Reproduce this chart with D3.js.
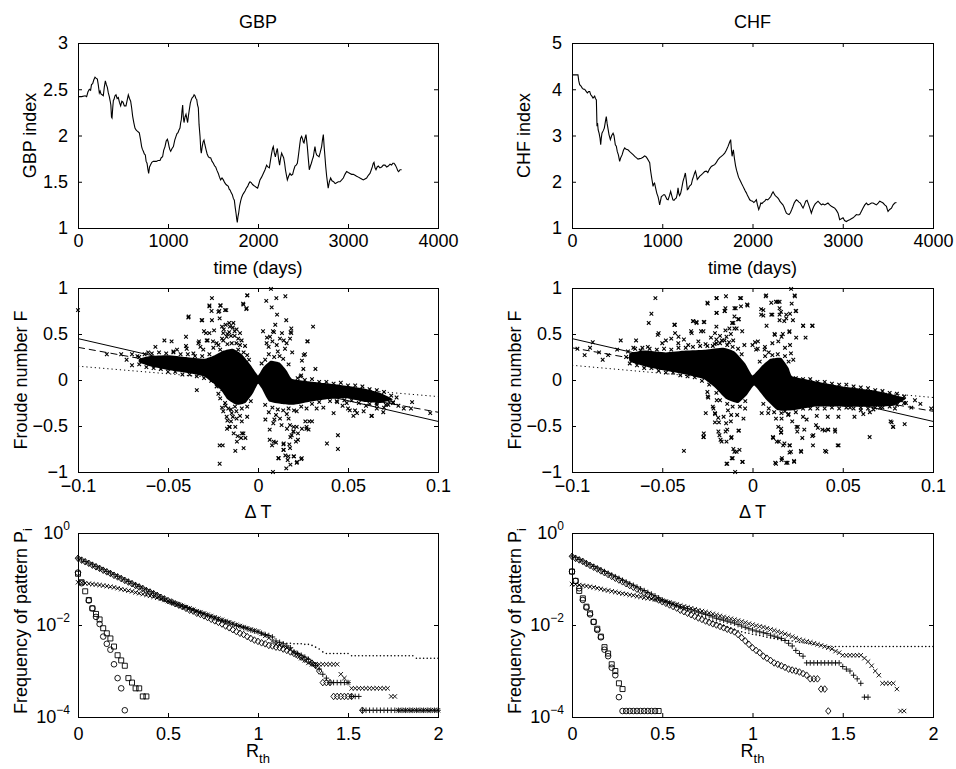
<!DOCTYPE html>
<html>
<head>
<meta charset="utf-8">
<script src="https://cdn.jsdelivr.net/npm/d3@7"></script>
<style>body{margin:0;background:#fff}</style>
</head>
<body>
<script>
// ---- exchange rate index (day, value) ----
const gbpIndex = [[0,2.42],[40,2.42],[80,2.43],[96,2.42],[110,2.47],[126,2.50],[140,2.49],[150,2.55],[163,2.56],[175,2.60],[189,2.63],[200,2.62],[215,2.61],[225,2.55],[237,2.46],[246,2.48],[255,2.45],[268,2.44],[281,2.43],[292,2.52],[304,2.59],[315,2.55],[326,2.52],[337,2.46],[348,2.42],[358,2.37],[365,2.33],[372,2.20],[378,2.19],[386,2.30],[393,2.38],[400,2.39],[411,2.43],[422,2.44],[435,2.40],[448,2.41],[460,2.36],[474,2.32],[487,2.37],[500,2.36],[515,2.32],[533,2.32],[546,2.38],[559,2.44],[572,2.40],[585,2.37],[596,2.30],[607,2.21],[620,2.14],[633,2.08],[645,2.06],[656,2.05],[668,2.04],[681,2.03],[694,1.96],[707,1.88],[716,1.85],[726,1.83],[737,1.80],[748,1.79],[757,1.72],[767,1.70],[776,1.64],[785,1.59],[795,1.66],[805,1.68],[820,1.71],[837,1.72],[855,1.72],[870,1.72],[890,1.73],[911,1.73],[925,1.76],[940,1.77],[952,1.84],[967,1.88],[980,1.94],[993,1.96],[1002,1.93],[1012,1.88],[1020,1.85],[1030,1.83],[1045,1.86],[1060,1.88],[1075,1.95],[1089,1.99],[1100,2.02],[1111,2.03],[1122,2.06],[1133,2.08],[1141,2.14],[1148,2.17],[1155,2.26],[1163,2.33],[1170,2.20],[1178,2.14],[1189,2.20],[1200,2.23],[1210,2.18],[1218,2.14],[1228,2.22],[1237,2.28],[1248,2.35],[1260,2.39],[1270,2.41],[1281,2.42],[1290,2.44],[1300,2.43],[1310,2.40],[1319,2.39],[1328,2.33],[1337,2.30],[1345,2.12],[1356,1.99],[1364,1.85],[1370,1.81],[1380,1.88],[1390,1.93],[1400,1.95],[1410,1.90],[1422,1.85],[1435,1.80],[1448,1.77],[1460,1.76],[1474,1.76],[1490,1.72],[1504,1.70],[1518,1.67],[1530,1.66],[1545,1.62],[1559,1.59],[1572,1.55],[1585,1.52],[1600,1.54],[1615,1.52],[1630,1.49],[1645,1.47],[1658,1.46],[1670,1.45],[1680,1.42],[1690,1.41],[1703,1.38],[1715,1.36],[1726,1.32],[1737,1.30],[1747,1.22],[1756,1.16],[1763,1.10],[1770,1.06],[1777,1.12],[1785,1.16],[1796,1.24],[1807,1.29],[1818,1.33],[1830,1.36],[1843,1.38],[1856,1.40],[1870,1.43],[1885,1.45],[1898,1.48],[1911,1.50],[1925,1.49],[1940,1.47],[1953,1.46],[1967,1.45],[1980,1.44],[1996,1.43],[2008,1.47],[2022,1.52],[2040,1.55],[2059,1.59],[2078,1.63],[2096,1.68],[2110,1.66],[2126,1.65],[2140,1.74],[2152,1.81],[2162,1.86],[2170,1.88],[2180,1.82],[2193,1.77],[2204,1.82],[2215,1.86],[2228,1.75],[2240,1.68],[2252,1.76],[2263,1.81],[2275,1.78],[2285,1.76],[2296,1.70],[2305,1.63],[2316,1.57],[2326,1.52],[2340,1.56],[2355,1.59],[2370,1.57],[2385,1.58],[2398,1.63],[2411,1.67],[2424,1.68],[2437,1.70],[2446,1.76],[2455,1.83],[2465,1.91],[2474,1.97],[2485,1.99],[2496,1.96],[2503,1.93],[2511,1.92],[2522,1.97],[2533,2.01],[2540,1.95],[2548,1.88],[2559,1.75],[2570,1.63],[2582,1.67],[2593,1.70],[2604,1.74],[2615,1.77],[2624,1.83],[2633,1.88],[2642,1.82],[2652,1.79],[2665,1.78],[2678,1.77],[2692,1.82],[2707,1.88],[2716,1.95],[2726,2.01],[2735,1.88],[2744,1.77],[2753,1.66],[2763,1.56],[2772,1.49],[2780,1.43],[2793,1.50],[2807,1.54],[2822,1.51],[2840,1.50],[2857,1.48],[2874,1.49],[2892,1.50],[2911,1.50],[2930,1.52],[2948,1.54],[2966,1.58],[2985,1.61],[3003,1.60],[3022,1.59],[3040,1.58],[3059,1.58],[3078,1.57],[3096,1.56],[3115,1.55],[3133,1.54],[3152,1.53],[3170,1.52],[3188,1.53],[3207,1.54],[3226,1.57],[3244,1.59],[3259,1.63],[3270,1.66],[3281,1.70],[3289,1.71],[3300,1.65],[3311,1.63],[3324,1.66],[3337,1.67],[3355,1.65],[3374,1.66],[3392,1.68],[3411,1.68],[3430,1.66],[3448,1.67],[3467,1.69],[3485,1.68],[3498,1.70],[3511,1.70],[3526,1.68],[3541,1.65],[3553,1.62],[3563,1.61],[3578,1.63],[3596,1.63]];

const chfIndex = [[0,4.31],[30,4.31],[66,4.31],[75,4.18],[85,4.10],[100,4.07],[115,4.02],[128,4.00],[140,4.00],[155,3.96],[170,3.92],[184,3.95],[196,3.95],[208,3.88],[220,3.85],[233,3.81],[242,3.83],[251,3.85],[260,3.80],[270,3.77],[277,3.20],[283,3.27],[290,3.12],[300,3.05],[310,2.95],[318,2.80],[325,2.95],[332,3.05],[345,3.10],[358,3.16],[370,3.30],[380,3.41],[390,3.25],[398,3.16],[410,3.02],[425,2.91],[440,3.00],[455,3.05],[465,3.00],[480,2.80],[491,2.77],[502,2.65],[514,2.58],[528,2.44],[540,2.52],[555,2.58],[570,2.68],[584,2.73],[600,2.70],[620,2.69],[640,2.65],[658,2.62],[680,2.58],[695,2.55],[712,2.52],[731,2.49],[750,2.50],[768,2.51],[787,2.53],[805,2.56],[820,2.54],[835,2.50],[850,2.45],[861,2.41],[870,2.25],[880,2.12],[890,2.00],[898,1.90],[905,1.95],[915,1.97],[928,1.85],[940,1.75],[953,1.68],[962,1.60],[971,1.50],[980,1.58],[990,1.68],[1005,1.70],[1015,1.72],[1027,1.72],[1040,1.67],[1052,1.62],[1065,1.61],[1080,1.70],[1093,1.79],[1105,1.70],[1118,1.61],[1130,1.60],[1143,1.63],[1156,1.65],[1165,1.72],[1175,1.87],[1183,1.75],[1192,1.70],[1204,1.75],[1215,1.85],[1230,2.01],[1244,2.10],[1256,2.19],[1265,2.05],[1278,1.83],[1290,1.85],[1300,1.90],[1311,1.92],[1322,1.94],[1335,2.05],[1348,2.12],[1359,2.19],[1368,2.23],[1378,2.15],[1388,2.05],[1400,2.08],[1416,2.12],[1433,2.15],[1450,2.18],[1470,2.22],[1488,2.23],[1505,2.20],[1525,2.28],[1544,2.33],[1562,2.35],[1581,2.37],[1600,2.42],[1618,2.48],[1637,2.52],[1655,2.55],[1674,2.58],[1692,2.62],[1710,2.68],[1730,2.77],[1745,2.85],[1758,2.91],[1766,2.70],[1774,2.55],[1780,2.62],[1788,2.69],[1800,2.50],[1812,2.35],[1823,2.25],[1832,2.19],[1845,2.10],[1858,2.05],[1870,2.00],[1882,1.95],[1895,1.90],[1908,1.85],[1920,1.80],[1932,1.76],[1945,1.70],[1957,1.66],[1969,1.61],[1985,1.59],[2000,1.58],[2015,1.55],[2030,1.58],[2043,1.61],[2055,1.50],[2069,1.40],[2080,1.45],[2092,1.54],[2105,1.53],[2120,1.56],[2135,1.58],[2150,1.62],[2168,1.61],[2185,1.64],[2202,1.68],[2215,1.74],[2228,1.78],[2240,1.74],[2252,1.70],[2265,1.68],[2280,1.65],[2292,1.62],[2302,1.58],[2320,1.54],[2337,1.50],[2350,1.45],[2363,1.38],[2376,1.32],[2390,1.30],[2405,1.29],[2420,1.33],[2435,1.40],[2449,1.47],[2462,1.54],[2475,1.58],[2486,1.61],[2500,1.59],[2515,1.56],[2530,1.54],[2545,1.48],[2560,1.43],[2575,1.50],[2590,1.58],[2605,1.60],[2623,1.50],[2637,1.42],[2652,1.32],[2665,1.40],[2680,1.47],[2695,1.52],[2710,1.55],[2726,1.58],[2745,1.54],[2763,1.50],[2780,1.52],[2800,1.50],[2818,1.52],[2836,1.54],[2855,1.50],[2874,1.47],[2893,1.45],[2911,1.43],[2930,1.38],[2948,1.32],[2957,1.25],[2966,1.18],[2985,1.20],[3003,1.22],[3020,1.16],[3040,1.14],[3058,1.16],[3077,1.18],[3095,1.20],[3114,1.22],[3132,1.25],[3151,1.29],[3170,1.28],[3188,1.29],[3207,1.36],[3225,1.43],[3244,1.50],[3262,1.54],[3280,1.50],[3300,1.52],[3318,1.54],[3336,1.54],[3355,1.52],[3373,1.50],[3392,1.54],[3410,1.58],[3428,1.56],[3447,1.54],[3465,1.50],[3484,1.47],[3494,1.40],[3502,1.36],[3520,1.40],[3540,1.43],[3558,1.50],[3576,1.54],[3595,1.55]];

// ---- Froude number vs delta T: dense core outline and individual points ----
const gbpCore = [[-0.066,0.23],[-0.06,0.26],[-0.05,0.27],[-0.04,0.25],[-0.03,0.23],[-0.024,0.27],[-0.019,0.32],[-0.014,0.34],[-0.009,0.28],[-0.004,0.16],[0,0.05],[0.003,0.14],[0.007,0.21],[0.012,0.19],[0.016,0.1],[0.019,0.01],[0.03,-0.02],[0.044,-0.05],[0.058,-0.09],[0.068,-0.14],[0.075,-0.21],[0.068,-0.25],[0.06,-0.24],[0.05,-0.2],[0.038,-0.21],[0.028,-0.24],[0.02,-0.27],[0.013,-0.26],[0.006,-0.23],[0.002,-0.09],[0,-0.04],[-0.003,-0.15],[-0.007,-0.25],[-0.012,-0.27],[-0.017,-0.21],[-0.021,-0.1],[-0.03,0.04],[-0.04,0.08],[-0.05,0.11],[-0.06,0.15],[-0.066,0.19]];
const chfCore = [[-0.068,0.29],[-0.06,0.32],[-0.048,0.3],[-0.037,0.32],[-0.026,0.33],[-0.016,0.35],[-0.01,0.31],[-0.004,0.18],[0,0.05],[0.005,0.15],[0.01,0.23],[0.016,0.24],[0.02,0.13],[0.022,0.04],[0.034,-0.01],[0.05,-0.07],[0.066,-0.11],[0.078,-0.16],[0.085,-0.2],[0.078,-0.28],[0.066,-0.29],[0.05,-0.29],[0.034,-0.29],[0.022,-0.33],[0.014,-0.33],[0.007,-0.2],[0.001,-0.06],[-0.003,-0.16],[-0.008,-0.25],[-0.015,-0.2],[-0.021,-0.08],[-0.027,0.01],[-0.037,0.06],[-0.048,0.1],[-0.06,0.15],[-0.068,0.2]];

const gbpFroude = [[-0.1,0.76],[-0.084,0.28],[-0.076,0.28],[-0.073,0.22],[-0.07,0.28],[-0.07,0.16],[-0.066,0.25],[-0.064,0.21],[-0.061,0.3],[-0.057,0.36],[-0.052,0.43],[-0.048,0.42],[-0.055,0.19],[-0.045,0.33],[-0.0385,0.69],[-0.034,-0.11],
[-0.0256,0.89],[-0.027,0.81],[-0.021,0.81],[-0.022,0.74],[-0.0176,0.76],[-0.031,0.65],[-0.0256,0.65],[-0.0213,0.67],[-0.006,0.92],[-0.0083,0.83],[-0.0065,0.77],[-0.0059,0.92],[-0.0081,0.82],[-0.0063,0.78],[-0.027,0.8],[-0.0207,0.81],[-0.0258,0.75],[-0.0215,0.75],[-0.0183,0.76],[-0.0387,0.68],[-0.0313,0.65],[-0.0289,0.51],[-0.027,0.51],[-0.0244,0.54],[-0.0285,0.43],[-0.04,0.47],[-0.04,0.37],[-0.0331,0.4],[-0.0304,0.33],[-0.0248,0.35],[-0.023,0.4],[-0.0193,0.43],[-0.0156,0.58],[-0.0137,0.62],[-0.0119,0.55],[-0.01,0.51],[-0.0091,0.43],[-0.0072,0.37],[-0.0193,0.51],[-0.0174,0.47],[-0.0146,0.4],[-0.03,0.53],[-0.028,0.43],[-0.0328,0.42],[-0.032,0.36],[-0.0396,0.34],[-0.0359,0.29],[-0.047,0.31],[-0.016,0.52],[-0.013,0.48],[-0.011,0.45],[-0.02,0.58],[-0.018,0.6],[-0.014,0.57],
[-0.02,0.45],[-0.017,0.5],[-0.015,0.48],[-0.012,0.4],[-0.01,0.38],[-0.008,0.3],[-0.022,0.38],[-0.025,0.42],[-0.019,0.55],[-0.016,0.62],[-0.013,0.53],[-0.006,0.27],[-0.005,0.22],[-0.017,0.39],[-0.021,0.33],[-0.011,0.33],
[0.0072,0.99],[0.0046,0.86],[0.0102,0.89],[0.0152,0.91],[0.0106,0.71],[0.0157,0.65],[0.0096,0.6],[0.0306,0.58],[0.0083,0.53],[0.0028,0.53],[0.0133,0.51],[0.0185,0.56],[0.0185,0.51],[0.0276,0.42],[0.005,0.46],[0.0059,0.36],[0.0143,0.43],[0.0254,0.27],[0.0244,0.21],[0.0319,0.12],[0.024,0.05],[0.0076,0.79],[0.0067,0.47],[0.008,0.42],[0.0122,0.45],[0.0178,0.45],[0.0159,0.4],[0.0048,0.4],[0.0104,0.38],[0.0274,0.42],[0.0261,0.28],[0.0252,0.12],[0.0237,0.04],[0.0089,0.52],[0.0181,0.52],[0.015,0.34],[0.019,0.3],
[0.004,0.22],[0.006,0.28],[0.009,0.25],[0.012,0.26],[0.014,0.23],[0.017,0.17],[0.002,0.18],[0.011,0.31],
[-0.0213,-0.71],[-0.0213,-0.91],[-0.0172,-0.53],[-0.0157,-0.51],[-0.0135,-0.58],[-0.0126,-0.51],[-0.0113,-0.61],[-0.0089,-0.58],[-0.007,-0.63],[-0.0126,-0.77],[-0.008,-0.74],[-0.0117,-0.67],[-0.0198,-0.1],[-0.021,-0.2],[-0.0183,-0.25],[-0.0165,-0.31],[-0.0146,-0.36],[-0.0119,-0.42],[-0.0193,-0.34],[-0.0174,-0.4],[-0.0128,-0.29],[-0.016,-0.51],[-0.0094,-0.63],[-0.0081,-0.58],[-0.0196,-0.71],[-0.006,-0.4],[-0.009,-0.45],[-0.015,-0.45],[-0.02,-0.3],[-0.022,-0.15],
[-0.018,-0.28],[-0.015,-0.32],[-0.012,-0.34],[-0.009,-0.31],[-0.006,-0.29],[-0.004,-0.23],[-0.014,-0.4],[-0.01,-0.39],[-0.017,-0.44],[-0.023,-0.07],
[0.0091,-0.43],[0.0041,-0.43],[0.0065,-0.54],[0.0065,-0.65],[0.0078,-0.71],[0.0087,-0.67],[0.0143,-0.69],[0.0143,-0.76],[0.0152,-0.82],[0.0115,-0.85],[0.0165,-0.87],[0.0198,-0.83],[0.0217,-0.89],[0.024,-0.86],[0.018,-0.92],[0.0157,-0.96],[0.0083,-1.0],[0.018,-0.62],[0.0198,-0.56],[0.0198,-0.51],[0.0222,-0.58],[0.0222,-0.65],[0.0161,-0.53],[0.0244,-0.53],[0.0269,-0.53],[0.0281,-0.54],[0.0263,-0.45],[0.03,-0.45],[0.0383,-0.69],[0.0444,-0.6],[0.0444,-0.75],[0.0085,-0.47],[0.0122,-0.42],[0.017,-0.42],[0.0131,-0.49],[0.0178,-0.49],[0.0196,-0.56],[0.0215,-0.51],[0.0187,-0.6],[0.01,-0.68],[0.0141,-0.7],[0.0174,-0.7],[0.0141,-0.76],[0.0178,-0.74],[0.0211,-0.67],[0.027,-0.51],[0.0285,-0.45],[0.0113,-0.85],[0.0169,-0.83],[0.02,-0.83],[0.0243,-0.85],[0.0215,-0.9],[0.0215,-0.34],[0.027,-0.31],[0.0326,-0.31],[0.0363,-0.3],[0.042,-0.36],[0.05,-0.31],
[0.004,-0.27],[0.008,-0.3],[0.011,-0.32],[0.014,-0.33],[0.017,-0.31],[0.02,-0.33],[0.006,-0.35],[0.01,-0.38],[0.016,-0.37],[0.024,-0.29],
[0.051,-0.33],[0.055,-0.36],[0.0587,-0.34],[0.0633,-0.39],[0.066,-0.31],[0.075,-0.25],[0.081,-0.31],[0.085,-0.31],[0.0856,-0.24],[0.0957,-0.36],[0.0539,-0.33],[0.053,-0.39],[0.063,-0.39],[0.0696,-0.35],[0.0659,-0.25],[0.0622,-0.18],[0.0724,-0.27],[0.0493,-0.25],[0.0437,-0.23],[0.07,-0.3],[0.073,-0.24],[0.078,-0.28],[0.068,-0.22],[0.06,-0.28],[0.057,-0.2],[0.047,-0.28],
[-0.067,0.26],[-0.063,0.28],[-0.059,0.29],[-0.055,0.3],[-0.051,0.29],[-0.047,0.3],[-0.043,0.28],[-0.039,0.28],[-0.035,0.26],[-0.031,0.26],[-0.027,0.28],[-0.066,0.17],[-0.062,0.14],[-0.058,0.13],[-0.054,0.12],[-0.05,0.09],[-0.046,0.09],[-0.042,0.06],[-0.038,0.06],[-0.034,0.04],[-0.03,0.02],[-0.026,-0.01],
[0.022,0.02],[0.026,0],[0.03,0.01],[0.034,-0.02],[0.038,-0.02],[0.042,-0.04],[0.046,-0.03],[0.05,-0.06],[0.054,-0.06],[0.058,-0.07],[0.062,-0.1],[0.066,-0.11],[0.07,-0.13],[0.074,-0.17],[0.077,-0.19],[0.03,-0.26],[0.034,-0.24],[0.04,-0.23],[0.044,-0.24],[0.048,-0.22],[0.052,-0.22],[0.056,-0.25],[0.062,-0.26],[0.066,-0.27],[0.071,-0.27],[0.075,-0.24]];

const chfFroude = [[-0.0885,0.41],[-0.097,0.34],[-0.093,0.27],[-0.09,0.35],[-0.085,0.3],[-0.083,0.22],[-0.08,0.27],[-0.073,0.43],[-0.0645,0.43],[-0.075,0.33],[-0.07,0.25],[-0.066,0.35],[-0.062,0.32],[-0.058,0.36],
[-0.0538,0.89],[-0.056,0.72],[-0.0575,0.62],[-0.043,0.6],[-0.033,0.64],[-0.031,0.63],[-0.027,0.63],[-0.034,0.53],[-0.0285,0.53],[-0.052,0.51],[-0.0525,0.49],[-0.048,0.43],[-0.041,0.47],[-0.025,0.84],[-0.02,0.89],[-0.02,0.73],[-0.015,0.78],[-0.0155,0.75],[-0.01,0.78],[-0.0063,0.89],[-0.003,0.82],[-0.01,0.69],[-0.0113,0.62],[-0.0128,0.56],[-0.01,0.56],[-0.008,0.66],[-0.02,0.58],[-0.02,0.44],[-0.0155,0.43],[-0.0248,0.83],[-0.0198,0.89],[-0.0147,0.91],[-0.0069,0.89],[-0.0198,0.73],[-0.0153,0.75],[-0.0093,0.78],[-0.0064,0.8],[-0.0027,0.81],[-0.0075,0.66],[-0.0106,0.62],[-0.0088,0.56],[-0.0057,0.53],[-0.0328,0.64],[-0.031,0.62],[-0.0267,0.63],[-0.0433,0.6],[-0.0429,0.51],[-0.0337,0.51],[-0.0272,0.53],[-0.0208,0.51],[-0.0411,0.4],[-0.0356,0.38],[-0.0144,0.47],[-0.0107,0.43],[-0.0045,0.38],[-0.045,0.45],[-0.038,0.44],[-0.03,0.42],[-0.023,0.46],[-0.018,0.48],[-0.012,0.5],[-0.05,0.4],
[-0.02,0.4],[-0.017,0.43],[-0.013,0.41],[-0.008,0.34],[-0.006,0.28],[-0.022,0.37],[-0.026,0.39],[-0.015,0.54],
[0.0076,0.92],[0.0104,0.84],[0.013,0.85],[0.015,0.85],[0.0048,0.77],[0.0048,0.71],[0.0104,0.71],[0.015,0.78],[0.015,0.71],[0.015,0.65],[0.0187,0.71],[0.0187,0.67],[0.0214,0.99],[0.0233,0.92],[0.0242,0.75],[0.0224,0.65],[0.028,0.59],[0.033,0.59],[0.0242,0.46],[0.0205,0.53],[0.0122,0.5],[0.0168,0.5],[0.003,0.42],[0,0.38],[0.002,0.33],[0.0067,0.33],[0.0073,0.91],[0.0139,0.85],[0.0235,0.91],[0.0217,0.83],[0.006,0.76],[0.006,0.7],[0.011,0.71],[0.0158,0.74],[0.0176,0.64],[0.0208,0.72],[0.0239,0.75],[0.0078,0.59],[0.0281,0.59],[0.0333,0.59],[0.0294,0.46],[0.0124,0.49],[0.0161,0.47],[0.0204,0.52],[0.0208,0.38],[0.0014,0.41],[0.0069,0.36],[0.0029,0.34],[0.0143,0.42],[0.018,0.35],[0.0213,0.29],[0.0226,0.22],[0.011,0.4],[0.009,0.3],
[0.004,0.2],[0.007,0.26],[0.011,0.27],[0.014,0.28],[0.018,0.26],[0.02,0.2],
[-0.038,-0.77],[-0.014,-0.91],[-0.0115,-0.85],[-0.01,-0.78],[-0.0072,-0.76],[-0.0054,-0.89],[-0.0096,-1.0],[-0.0183,-0.6],[-0.0177,-0.65],[-0.0118,-0.63],[-0.014,-0.54],[-0.0146,-0.47],[-0.0078,-0.55],[-0.027,-0.62],[-0.027,-0.58],[-0.025,-0.13],[-0.0248,-0.18],[-0.022,-0.29],[-0.0207,-0.37],[-0.0245,-0.19],[-0.0198,-0.22],[-0.0216,-0.31],[-0.0208,-0.36],[-0.019,-0.41],[-0.0259,-0.36],[-0.0208,-0.46],[-0.0186,-0.46],[-0.0149,-0.56],[-0.0189,-0.56],[-0.0272,-0.62],[-0.0171,-0.67],[-0.0144,-0.67],[-0.0116,-0.62],[-0.0075,-0.55],[-0.0106,-0.75],[-0.0088,-0.78],[-0.011,-0.85],[-0.0144,-0.91],[-0.0057,-0.89],[-0.0136,-0.33],[-0.0118,-0.38],[-0.0085,-0.38],[-0.0041,-0.31],[-0.016,-0.4],[-0.012,-0.45],[-0.005,-0.42],
[-0.018,-0.22],[-0.014,-0.26],[-0.011,-0.29],[-0.007,-0.29],[-0.004,-0.23],[-0.02,-0.14],
[0.0113,-0.62],[0.0135,-0.67],[0.0159,-0.53],[0.0159,-0.57],[0.0177,-0.69],[0.0205,-0.71],[0.0205,-0.79],[0.0163,-0.85],[0.0126,-0.9],[0.0187,-0.9],[0.023,-0.88],[0.0248,-0.56],[0.0251,-0.51],[0.027,-0.78],[0.0335,-0.71],[0.0331,-0.61],[0.0362,-0.52],[0.04,-0.55],[0.0418,-0.54],[0.0458,-0.56],[0.0409,-0.78],[0.0477,-0.71],[0.0649,-0.62],[0.0051,-0.36],[0.0087,-0.36],[0.013,-0.42],[0.0161,-0.42],[0.0198,-0.38],[0.0244,-0.51],[0.0143,-0.51],[0.0158,-0.57],[0.0115,-0.63],[0.0146,-0.67],[0.017,-0.71],[0.0207,-0.71],[0.0213,-0.78],[0.0268,-0.77],[0.013,-0.91],[0.0161,-0.87],[0.0194,-0.9],[0.0231,-0.89],[0.0287,-0.54],[0.0337,-0.6],[0.0352,-0.49],[0.0387,-0.54],[0.042,-0.54],[0.0457,-0.54],[0.0276,-0.63],[0.03,-0.43],[0.0402,-0.77],[0.0472,-0.71],[0.0476,-0.4],[0.0417,-0.4],[0.0356,-0.39],[0.028,-0.4],[0.022,-0.45],
[0.006,-0.26],[0.009,-0.31],[0.012,-0.35],[0.016,-0.36],[0.02,-0.37],[0.018,-0.34],
[0.0565,-0.4],[0.0614,-0.37],[0.067,-0.32],[0.0707,-0.3],[0.0697,-0.19],[0.0743,-0.21],[0.0771,-0.21],[0.0771,-0.46],[0.078,-0.51],[0.0789,-0.31],[0.0765,-0.45],[0.0778,-0.51],[0.0843,-0.48],[0.093,-0.26],[0.099,-0.31],[0.085,-0.25],[0.088,-0.3],[0.082,-0.22],[0.09,-0.22],[0.072,-0.25],[0.06,-0.33],[0.054,-0.3],[0.065,-0.35],
[-0.069,0.31],[-0.065,0.34],[-0.061,0.35],[-0.057,0.34],[-0.053,0.33],[-0.049,0.34],[-0.045,0.33],[-0.041,0.35],[-0.037,0.35],[-0.033,0.36],[-0.029,0.37],[-0.025,0.37],[-0.021,0.39],[-0.018,0.4],[-0.014,0.38],[-0.011,0.36],[-0.068,0.18],[-0.064,0.16],[-0.06,0.13],[-0.056,0.13],[-0.052,0.1],[-0.048,0.08],[-0.044,0.08],[-0.04,0.05],[-0.036,0.04],[-0.032,0.03],[-0.028,-0.01],[-0.024,-0.05],
[0.024,0.02],[0.028,0.01],[0.032,0.01],[0.036,-0.02],[0.04,-0.02],[0.044,-0.04],[0.048,-0.05],[0.052,-0.05],[0.056,-0.07],[0.06,-0.08],[0.064,-0.09],[0.068,-0.11],[0.072,-0.12],[0.076,-0.14],[0.08,-0.15],[0.084,-0.18],[0.024,-0.35],[0.028,-0.31],[0.032,-0.31],[0.036,-0.31],[0.04,-0.31],[0.044,-0.3],[0.048,-0.31],[0.052,-0.3],[0.056,-0.31],[0.06,-0.3],[0.064,-0.31],[0.068,-0.3],[0.072,-0.3],[0.076,-0.29],[0.08,-0.27],[0.084,-0.25]];

// fitted lines (end points at the axis limits)
const gbpFitSolid = [[-0.1,0.45],[0.1,-0.45]];
const gbpFitDashed = [[-0.1,0.355],[0.1,-0.35]];
const gbpFitDotted = [[-0.1,0.15],[0.1,-0.18]];
const chfFitSolid = [[-0.1,0.45],[0.1,-0.45]];
const chfFitDashed = [[-0.1,0.35],[0.1,-0.34]];
const chfFitDotted = [[-0.1,0.16],[0.1,-0.19]];

// ---- pattern frequency vs threshold R_th ----
const rth = [0,.02,.04,.06,.08,.1,.12,.14,.16,.18,.2,.22,.24,.26,.28,.3,.32,.34,.36,.38,.4,.42,.44,.46,.48,.5,.52,.54,.56,.58,.6,.62,.64,.66,.68,.7,.72,.74,.76,.78,.8,.82,.84,.86,.88,.9,.92,.94,.96,.98,1,1.02,1.04,1.06,1.08,1.1,1.12,1.14,1.16,1.18,1.2,1.22,1.24,1.26,1.28,1.3,1.32,1.34,1.36,1.38,1.4,1.42,1.44,1.46,1.48,1.5,1.52,1.54,1.56,1.58,1.6,1.62,1.64,1.66,1.68,1.7,1.72,1.74,1.76,1.78,1.8,1.82,1.84,1.86,1.88,1.9,1.92,1.94,1.96,1.98,2];

const gbpDot = [.087,.084,.082,.08,.078,.075,.073,.071,.069,.067,.065,.062,.06,.057,.055,.053,.051,.048,.046,.044,.042,.04,.038,.036,.035,.033,.031,.0293,.0276,.026,.0244,.0229,.0215,.0202,.019,.0178,.0167,.0157,.0148,.0139,.0131,.0123,.0116,.0109,.0103,.0097,.0091,.0086,.0081,.0076,.0072,.0068,.0064,.006,.0054,.0043,.0042,.0041,.004,.004,.0039,.0039,.0039,.0038,.0038,.0036,.0033,.003,.0026,.0024,.0024,.0024,.0024,.0024,.0024,.0024,.00214,.00214,.00214,.00214,.00214,.00214,.00214,.00214,.00214,.00214,.00214,.00214,.00214,.00214,.00214,.00214,.00214,.00214,.0019,.0019,.0019,.0019,.0019,.0019,.0019];
const gbpCross = [.085,.083,.081,.079,.077,.076,.074,.072,.07,.068,.066,.063,.06,.058,.056,.054,.051,.049,.047,.045,.043,.041,.039,.037,.035,.033,.0315,.0295,.0278,.026,.0245,.023,.0215,.02,.019,.0178,.0167,.0157,.0147,.0138,.013,.0122,.0115,.0108,.0101,.0095,.009,.0085,.008,.0076,.0072,.0064,.0058,.0052,.0045,.0038,.0036,.0034,.0032,.0029,.0025,.0022,.0019,.0017,.0015,.0014,.0014,.0014,.0014,.0014,.0014,.0014,.0014,8.5e-4,7e-4,5.6e-4,4.2e-4,4.2e-4,4.2e-4,4.2e-4,4.2e-4,4.2e-4,4.2e-4,4.2e-4,4.2e-4,4.2e-4,4.2e-4,2.8e-4,2.8e-4,1.4e-4,1.4e-4,1.4e-4,1.4e-4,1.4e-4,1.4e-4,1.4e-4,1.4e-4,1.4e-4,1.4e-4,1.4e-4,1.4e-4];
const gbpPlus = [.285,.26,.24,.222,.204,.188,.173,.159,.146,.135,.124,.114,.105,.096,.088,.081,.075,.069,.063,.058,.053,.049,.045,.041,.037,.033,.031,.029,.027,.0255,.024,.0225,.021,.0195,.0185,.0174,.0163,.0152,.0143,.0134,.0126,.0118,.0111,.0104,.0098,.0093,.0088,.0083,.0078,.0074,.0071,.0066,.0062,.0059,.0055,.0045,.0042,.0039,.0035,.0032,.0026,.0024,.0022,.002,.0018,.0015,.0013,.0011,8.5e-4,7e-4,5.6e-4,5.6e-4,5.6e-4,5.6e-4,5.6e-4,5.6e-4,2.8e-4,2.8e-4,2.8e-4,1.4e-4,1.4e-4,1.4e-4,1.4e-4,1.4e-4,1.4e-4,1.4e-4,1.4e-4,1.4e-4,1.4e-4,1.4e-4,1.4e-4,1.4e-4,1.4e-4,1.4e-4,1.4e-4,1.4e-4,1.4e-4,1.4e-4,1.4e-4,1.4e-4,1.4e-4];
const gbpDiamond = [.282,.257,.237,.219,.2,.184,.17,.155,.143,.132,.12,.111,.102,.093,.086,.079,.072,.067,.062,.056,.052,.048,.044,.04,.037,.034,.0316,.029,.027,.025,.023,.021,.02,.018,.017,.0158,.0145,.0133,.0123,.0114,.0105,.0095,.0087,.0079,.0072,.0066,.0062,.0056,.0051,.0047,.0044,.0041,.0039,.0036,.0035,.0033,.0032,.003,.0028,.0026,.0024,.0022,.002,.0018,.00166,.00148,.00132,.001,5.6e-4,5.6e-4,5.6e-4,2.8e-4,2.8e-4,2.8e-4,2.8e-4,2.8e-4,2.8e-4,null,null,1.4e-4];
const gbpSquare = [.13,.085,.054,.035,.023,.0174,.0132,.0085,.0066,.0051,.0034,.0022,.0017,.0013,7e-4,5.6e-4,4.2e-4,4.2e-4,2.8e-4,2.8e-4];
const gbpCircle = [.138,.081,null,.034,.023,.015,.0105,.0056,.0039,.0029,.0014,7e-4,4.2e-4,1.4e-4];

const chfDot = [.079,.077,.075,.073,.071,.069,.067,.064,.062,.059,.057,.055,.053,.051,.049,.047,.046,.044,.043,.041,.04,.038,.037,.036,.035,.034,.032,.0302,.0283,.0262,.024,.0223,.0207,.0192,.0179,.0166,.0153,.0142,.0131,.0121,.0112,.0104,.0097,.009,.0084,.0079,.0075,.0071,.0068,.0066,.0063,.0061,.0059,.0057,.0054,.0052,.0051,.005,.0048,.0047,.0046,.0045,.0043,.0042,.0041,.004,.0039,.0038,.0037,.0036,.0035,.0034,.0034,.0034,.0034,.0034,.0034,.0034,.0034,.0034,.0034,.0034,.0034,.0034,.0034,.0034,.0034,.0034,.0034,.0034,.0034,.0034,.0034,.0034,.0034,.0034,.0034,.0034,.0034,.0034,.0034];
const chfCross = [.078,.076,.074,.072,.07,.068,.066,.063,.061,.058,.056,.054,.052,.05,.048,.047,.045,.044,.042,.041,.039,.038,.037,.036,.035,.034,.0325,.031,.0295,.028,.0265,.0253,.0242,.0231,.022,.021,.0201,.0192,.0183,.0175,.0166,.0158,.015,.0143,.0137,.0131,.0125,.0119,.0113,.0107,.0102,.0097,.0093,.009,.0085,.008,.0076,.0072,.0068,.0064,.006,.0056,.0052,.0048,.0046,.0044,.0042,.004,.0038,.0036,.0034,.0032,.003,.0027,.0025,.0022,.0022,.0022,.0022,.0022,.0022,.0019,.0016,.0013,.001,8.1e-4,5.4e-4,5.4e-4,5.4e-4,5.4e-4,4.05e-4,1.35e-4,1.35e-4];
const chfPlus = [.315,.29,.265,.245,.222,.204,.187,.172,.158,.145,.133,.122,.112,.103,.094,.086,.079,.073,.067,.061,.056,.051,.047,.043,.039,.035,.032,.03,.0285,.0268,.025,.0238,.0226,.0214,.0202,.019,.018,.017,.016,.015,.014,.0133,.0127,.0121,.0115,.011,.0102,.0095,.0089,.0083,.0078,.0074,.0071,.0068,.0065,.006,.0057,.0054,.0051,.0046,.004,.0035,.0028,.0024,.0021,.0015,.0015,.0015,.0015,.0015,.0015,.0015,.0015,.0015,.0015,.00125,.0011,.001,8.1e-4,6.75e-4,5.4e-4,2.7e-4,2.7e-4];
const chfDiamond = [.31,.28,.26,.24,.215,.197,.18,.165,.15,.137,.125,.114,.104,.095,.087,.079,.072,.066,.06,.055,.05,.046,.042,.038,.035,.032,.0296,.0273,.0252,.0233,.021,.0195,.018,.0167,.0154,.0142,.0132,.0122,.0114,.0106,.01,.0093,.0087,.0081,.0076,.0071,.0062,.0053,.0045,.0038,.0032,.0028,.0025,.0021,.0019,.0017,.0015,.0014,.0013,.0012,.0011,.00105,.001,9.5e-4,8.8e-4,8.1e-4,6.75e-4,6.75e-4,6.75e-4,4.05e-4,4.05e-4,1.35e-4];
const chfSquare = [.145,.091,.055,.038,.025,.018,.0117,.0083,.0056,.0033,.0024,.0014,.001,5.4e-4,4.05e-4,null,null,null,null,null,null,null,null,null,1.35e-4];
const chfCircle = [.145,.091,.063,.035,.024,.017,.0117,.0078,.0054,.0029,.0021,.00118,8.1e-4,2.7e-4,1.35e-4,1.35e-4,1.35e-4,1.35e-4,1.35e-4,1.35e-4,1.35e-4,1.35e-4,1.35e-4,1.35e-4];

// ---- layout ----
const width = 956, height = 769;
const FONT = '"Liberation Sans", Arial, Helvetica, sans-serif';
const colX = [[78, 438], [572, 933]];
const rowY = [[43, 228], [288, 472], [533, 717]];

const svg = d3.select('body').append('svg')
  .attr('width', width).attr('height', height)
  .attr('font-family', FONT);
svg.append('rect').attr('width', width).attr('height', height).attr('fill', '#fff');

function drawAxes(g, x, y, o) {
  const [xa, xb] = x.range(), [yb, ya] = y.range();
  const big = sel => sel.attr('font-size', 18).attr('font-family', FONT);
  g.append('g').attr('transform', `translate(0,${yb})`)
    .call(d3.axisBottom(x).tickValues(o.xTicks).tickSize(-4).tickSizeOuter(0).tickPadding(o.xPad).tickFormat(o.xFmt))
    .call(big);
  g.append('g').attr('transform', `translate(0,${ya})`)
    .call(d3.axisTop(x).tickValues(o.xTicks).tickSize(-4).tickSizeOuter(0).tickFormat(() => ''));
  g.append('g').attr('transform', `translate(${xa},0)`)
    .call(d3.axisLeft(y).tickValues(o.yTicks).tickSize(-4).tickSizeOuter(0).tickPadding(10).tickFormat(o.yFmt))
    .call(big);
  g.append('g').attr('transform', `translate(${xb},0)`)
    .call(d3.axisRight(y).tickValues(o.yTicks).tickSize(-4).tickSizeOuter(0).tickFormat(() => ''));
  g.selectAll('.domain').remove();
  g.selectAll('.tick line').attr('stroke', '#000');
  g.selectAll('.tick text').attr('fill', '#000');
  g.append('rect').attr('x', xa + 0.5).attr('y', ya + 0.5)
    .attr('width', xb - xa).attr('height', yb - ya)
    .attr('fill', 'none').attr('stroke', '#000').attr('stroke-width', 1);
}

function yLabel(g, x, cy) {
  return g.append('text').attr('transform', `translate(${x},${cy}) rotate(-90)`)
    .attr('text-anchor', 'middle').attr('font-size', 18).attr('fill', '#000');
}

const panels = [
  { name: 'GBP', index: gbpIndex, yDom: [1, 3], yTicks: [1, 1.5, 2, 2.5, 3],
    core: gbpCore, froude: gbpFroude, fits: [gbpFitDotted, gbpFitDashed, gbpFitSolid],
    pat: { dot: gbpDot, cross: gbpCross, plus: gbpPlus, diamond: gbpDiamond, square: gbpSquare, circle: gbpCircle } },
  { name: 'CHF', index: chfIndex, yDom: [1, 5], yTicks: [1, 2, 3, 4, 5],
    core: chfCore, froude: chfFroude, fits: [chfFitDotted, chfFitDashed, chfFitSolid],
    pat: { dot: chfDot, cross: chfCross, plus: chfPlus, diamond: chfDiamond, square: chfSquare, circle: chfCircle } }
];

const fmt = d3.format('');
const dashes = ['1.2,3', '7,4', null];

panels.forEach((p, c) => {
  const [xa, xb] = colX[c];
  const cx = (xa + xb) / 2;

  // --- row 1: index time series ---
  {
    const [ya, yb] = rowY[0];
    const g = svg.append('g');
    const x = d3.scaleLinear().domain([0, 4000]).range([xa, xb]);
    const y = d3.scaleLinear().domain(p.yDom).range([yb, ya]);
    g.append('path').datum(p.index)
      .attr('d', d3.line().x(d => x(d[0])).y(d => y(d[1])))
      .attr('fill', 'none').attr('stroke', '#000').attr('stroke-width', 1.1);
    drawAxes(g, x, y, { xTicks: [0, 1000, 2000, 3000, 4000], xFmt: d3.format('d'), xPad: 6, yTicks: p.yTicks, yFmt: fmt });
    g.append('text').attr('x', cx).attr('y', 28).attr('text-anchor', 'middle').attr('font-size', 18).text(p.name);
    g.append('text').attr('x', cx).attr('y', 274).attr('text-anchor', 'middle').attr('font-size', 18).text('time (days)');
    yLabel(g, xa - 42, (ya + yb) / 2).text(p.name + ' index');
  }

  // --- row 2: Froude number scatter ---
  {
    const [ya, yb] = rowY[1];
    const g = svg.append('g');
    const x = d3.scaleLinear().domain([-0.1, 0.1]).range([xa, xb]);
    const y = d3.scaleLinear().domain([-1, 1]).range([yb, ya]);
    const line = d3.line().x(d => x(d[0])).y(d => y(d[1]));
    p.fits.forEach((f, i) => {
      g.append('path').datum(f).attr('d', line)
        .attr('fill', 'none').attr('stroke', '#000').attr('stroke-width', 1)
        .attr('stroke-dasharray', dashes[i]);
    });
    g.append('path').datum(p.core)
      .attr('d', d3.line().x(d => x(d[0])).y(d => y(d[1])).curve(d3.curveCardinalClosed.tension(0.6)))
      .attr('fill', '#000').attr('stroke', 'none');
    const s = 1.8;
    g.append('g').selectAll('path').data(p.froude).join('path')
      .attr('d', d => {
        const px = x(d[0]), py = y(d[1]);
        return `M${px - s},${py - s}L${px + s},${py + s}M${px - s},${py + s}L${px + s},${py - s}`;
      })
      .attr('stroke', '#000').attr('stroke-width', 1.1).attr('fill', 'none');
    drawAxes(g, x, y, { xTicks: [-0.1, -0.05, 0, 0.05, 0.1], xFmt: fmt, xPad: 7, yTicks: [-1, -0.5, 0, 0.5, 1], yFmt: fmt });
    g.append('text').attr('x', cx).attr('y', 518).attr('text-anchor', 'middle').attr('font-size', 18).text('\u0394 T');
    yLabel(g, xa - 51, (ya + yb) / 2).text('Froude number F');
  }

  // --- row 3: pattern frequencies ---
  {
    const [ya, yb] = rowY[2];
    const g = svg.append('g');
    const x = d3.scaleLinear().domain([0, 2]).range([xa, xb]);
    const y = d3.scaleLog().domain([1e-4, 1]).range([yb, ya]);
    const pts = arr => arr.map((v, i) => [rth[i], v]).filter(d => d[1] != null);
    const marker = {
      dot: (px, py) => `M${px - 0.8},${py}a0.8,0.8 0 1,0 1.6,0a0.8,0.8 0 1,0 -1.6,0`,
      cross: (px, py) => `M${px - 2.2},${py - 2.2}L${px + 2.2},${py + 2.2}M${px - 2.2},${py + 2.2}L${px + 2.2},${py - 2.2}`,
      plus: (px, py) => `M${px - 2.8},${py}L${px + 2.8},${py}M${px},${py - 2.8}L${px},${py + 2.8}`,
      diamond: (px, py) => `M${px},${py - 3.3}L${px + 2.7},${py}L${px},${py + 3.3}L${px - 2.7},${py}Z`,
      square: (px, py) => `M${px - 2.5},${py - 2.5}h5v5h-5Z`,
      circle: (px, py) => `M${px - 2.8},${py}a2.8,2.8 0 1,0 5.6,0a2.8,2.8 0 1,0 -5.6,0`
    };
    ['dot', 'cross', 'plus', 'diamond', 'square', 'circle'].forEach(k => {
      g.append('g').selectAll('path').data(pts(p.pat[k])).join('path')
        .attr('d', d => marker[k](x(d[0]), y(d[1])))
        .attr('fill', k === 'dot' ? '#000' : 'none')
        .attr('stroke', '#000').attr('stroke-width', k === 'dot' ? 0 : 0.9);
    });
    drawAxes(g, x, y, { xTicks: [0, 0.5, 1, 1.5, 2], xFmt: fmt, xPad: 10, yTicks: [1e-4, 1e-2, 1], yFmt: () => '' });
    [[1, '0'], [1e-2, '\u22122'], [1e-4, '\u22124']].forEach(([v, e]) => {
      const t = g.append('text').attr('x', xa - 8).attr('y', y(v) + 6)
        .attr('text-anchor', 'end').attr('font-size', 18).text('10');
      t.append('tspan').attr('dy', -9).attr('font-size', 12).text(e);
    });
    const rl = g.append('text').attr('x', cx).attr('y', 757).attr('text-anchor', 'middle').attr('font-size', 18).text('R');
    rl.append('tspan').attr('dy', 6).attr('font-size', 13).text('th');
    const fl = yLabel(g, xa - 51, (ya + yb) / 2 - 4).text('Frequency of pattern P');
    fl.append('tspan').attr('dy', 5).attr('font-size', 13).text('i');
  }
});
</script>
</body>
</html>
